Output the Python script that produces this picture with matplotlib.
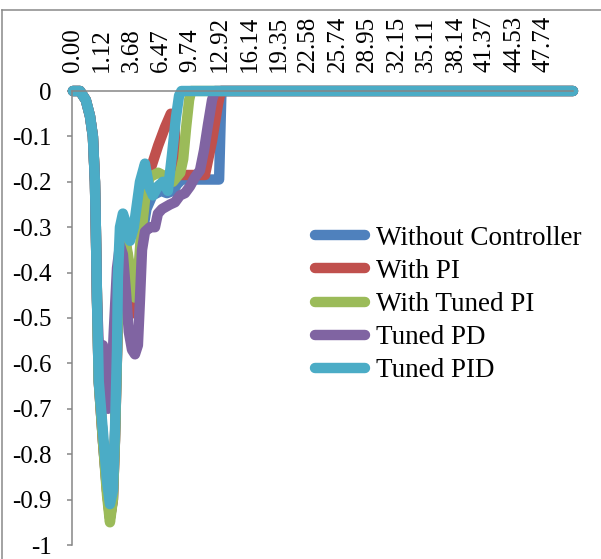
import matplotlib
matplotlib.use("Agg")
import matplotlib.pyplot as plt
from matplotlib.lines import Line2D

plt.rcParams['font.family'] = ['Liberation Serif', 'DejaVu Serif']

# Category labels (time), one label every 10 samples
time_labels = ["0.00", "1.12", "3.68", "6.47", "9.74", "12.92", "16.14", "19.35",
               "22.58", "25.74", "28.95", "32.15", "35.11", "38.14", "41.37",
               "44.53", "47.74"]
n_samples = 170

ytick_values = [0, -0.1, -0.2, -0.3, -0.4, -0.5, -0.6, -0.7, -0.8, -0.9, -1]
ytick_labels = ["0", "-0.1", "-0.2", "-0.3", "-0.4", "-0.5", "-0.6", "-0.7",
                "-0.8", "-0.9", "-1"]

# Series (sample index, value)
without_x = [0, 2.4, 4.4, 5.8, 6.8, 7.5, 7.8, 8.2, 8.8, 10.2, 11.6, 12.6, 13.6, 14.3,
             15.0, 15.6, 16.3, 17.3, 18.7, 20, 21.4, 22.5, 23.5, 25, 27, 30, 32, 34,
             35.5, 37, 49.7, 50.5, 170]
without_y = [0, 0, -0.02, -0.055, -0.10, -0.20, -0.30, -0.46, -0.64, -0.77, -0.88, -0.94,
             -0.90, -0.77, -0.58, -0.42, -0.33, -0.31, -0.37, -0.44, -0.49, -0.42, -0.32,
             -0.26, -0.23, -0.22, -0.225, -0.22, -0.205, -0.195, -0.195, 0, 0]

pi_x = [0, 2.4, 4.4, 5.8, 6.8, 7.5, 7.8, 8.2, 8.8, 10.2, 11.6, 12.6, 13.6, 14.3, 15.0,
        15.6, 16.3, 17.3, 18.7, 20, 21.1, 22.5, 23.5, 24.5, 26.5, 29, 31.3, 33.3, 34.5,
        35.7, 44.9, 47.3, 49.3, 50.3, 170]
pi_y = [0, 0, -0.02, -0.055, -0.10, -0.20, -0.30, -0.46, -0.64, -0.77, -0.88, -0.94,
        -0.90, -0.77, -0.58, -0.42, -0.33, -0.31, -0.37, -0.44, -0.49, -0.42, -0.30,
        -0.21, -0.17, -0.12, -0.08, -0.05, -0.08, -0.185, -0.185, -0.11, -0.03, 0, 0]

tuned_pi_x = [0, 2.4, 4.4, 5.8, 6.8, 7.5, 7.8, 8.2, 8.8, 10.2, 11.6, 12.6, 13.6, 14.3,
              15.0, 15.6, 16.3, 17.3, 18.7, 20, 21, 22, 23, 24.5, 26, 29, 32, 34, 36.5,
              37.5, 38.5, 39.5, 40.2, 170]
tuned_pi_y = [0, 0, -0.02, -0.055, -0.10, -0.20, -0.30, -0.46, -0.64, -0.77, -0.89, -0.95,
              -0.90, -0.77, -0.58, -0.42, -0.33, -0.31, -0.36, -0.42, -0.455, -0.42, -0.33,
              -0.24, -0.19, -0.18, -0.19, -0.20, -0.18, -0.15, -0.08, -0.02, 0, 0]

pd_x = [0, 2.4, 4.4, 5.8, 6.8, 7.5, 7.8, 8.2, 8.8, 10.2, 11.2, 11.9, 12.9, 13.9, 15.0,
        16.0, 17.0, 18.0, 19.0, 20.1, 21.1, 22.1, 22.8, 23.5, 24.5, 26.2, 27.9, 28.9,
        30.3, 33.0, 34.7, 36.4, 38.1, 39.8, 41.5, 43.2, 44.6, 45.9, 47.3, 48.3, 170]
pd_y = [0, 0, -0.02, -0.055, -0.10, -0.20, -0.30, -0.46, -0.56, -0.56, -0.65, -0.70,
        -0.68, -0.53, -0.39, -0.34, -0.36, -0.44, -0.53, -0.57, -0.58, -0.56, -0.46,
        -0.35, -0.31, -0.30, -0.30, -0.27, -0.26, -0.25, -0.245, -0.23, -0.225, -0.21,
        -0.19, -0.175, -0.13, -0.075, -0.02, 0, 0]

pid_x = [0, 2.4, 4.4, 5.8, 6.8, 7.5, 7.8, 8.2, 8.8, 10.2, 11.6, 12.6, 13.6, 14.3, 15.0,
         15.3, 16.0, 17.0, 18.0, 19.4, 20.7, 22.8, 24.5, 25.9, 27.2, 28.9, 30.6, 32.3,
         33.7, 35.0, 36.1, 36.9, 170]
pid_y = [0, 0, -0.02, -0.055, -0.10, -0.20, -0.30, -0.46, -0.64, -0.75, -0.86, -0.91,
         -0.88, -0.75, -0.57, -0.41, -0.30, -0.27, -0.29, -0.33, -0.30, -0.20, -0.16,
         -0.21, -0.23, -0.21, -0.20, -0.22, -0.14, -0.06, -0.01, 0, 0]

series = [
    ("Without Controller", without_x, without_y, "#4F81BD"),
    ("With PI", pi_x, pi_y, "#C0504D"),
    ("With Tuned PI", tuned_pi_x, tuned_pi_y, "#9BBB59"),
    ("Tuned PD", pd_x, pd_y, "#8064A2"),
    ("Tuned PID", pid_x, pid_y, "#4BACC6"),
]

fig = plt.figure(figsize=(6.01, 5.59), dpi=100)
ax = fig.add_axes([72 / 601, 1 - 545 / 559, (573 - 72) / 601, (545 - 91) / 559])

for name, xs, ys, color in series:
    ax.plot(xs, ys, color=color, lw=7.5, solid_capstyle="round",
            solid_joinstyle="round", clip_on=False, label=name)

ax.set_xlim(-0.3, n_samples)
ax.set_ylim(-1, 0)

grey = "#868686"
for side in ["bottom", "right"]:
    ax.spines[side].set_visible(False)
ax.spines["top"].set_color(grey)
ax.spines["left"].set_color(grey)
ax.spines["top"].set_linewidth(1.1)
ax.spines["left"].set_linewidth(1.1)

ax.xaxis.tick_top()
ax.set_xticks(range(0, n_samples, 10))
ax.set_xticklabels(time_labels, rotation=90)
ax.tick_params(axis="x", length=0, pad=14, labelsize=18)

ax.set_yticks(ytick_values)
ax.set_yticklabels(ytick_labels)
ax.tick_params(axis="y", length=3.6, width=1.1, color=grey, pad=11, labelsize=18)

# chart border (left and top edges visible)
fig.add_artist(Line2D([2 / 601, 2 / 601], [0, 1 - 10 / 559], transform=fig.transFigure,
                      color="#898989", lw=1.1))
fig.add_artist(Line2D([2 / 601, 1], [1 - 10 / 559, 1 - 10 / 559], transform=fig.transFigure,
                      color="#898989", lw=1.1))

fig.legend(loc="center left", bbox_to_anchor=(315 / 601, 1 - 304.5 / 559),
           frameon=False, fontsize=19.5, handlelength=1.85, handletextpad=0.4,
           labelspacing=0.3, borderpad=0, borderaxespad=0)

fig.savefig("out.png", dpi=100)
